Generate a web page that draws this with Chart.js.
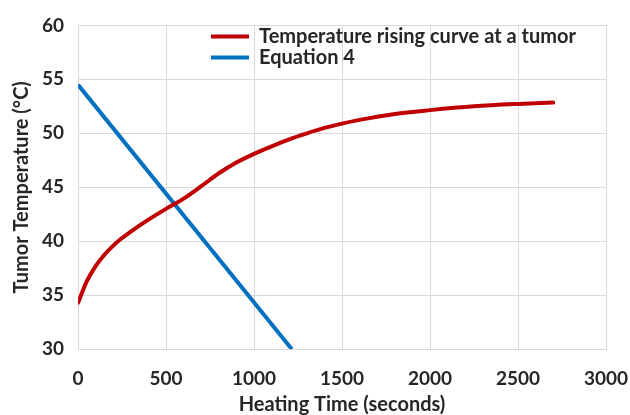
<html>
<head>
<style>
  body { margin: 0; background: #fff; }
  #wrap { width: 630px; height: 415px; }
</style>
</head>
<body>
<div id="wrap"><canvas id="myChart"></canvas></div>

<script src="https://cdn.jsdelivr.net/npm/chart.js"></script>
<script>
    // heating time (s) and tumor temperature (°C)
    const redTime = [0, 50, 100, 150, 200, 250, 300, 400, 500, 600, 700, 800, 900, 1000,
                     1100, 1200, 1300, 1400, 1500, 1600, 1800, 2000, 2250, 2500, 2700];
    const redTemp = [34.3, 36.3, 37.7, 38.75, 39.6, 40.3, 40.9, 42.0, 43.0, 43.95, 45.1, 46.3, 47.3, 48.1,
                     48.8, 49.45, 50.0, 50.5, 50.9, 51.25, 51.8, 52.15, 52.5, 52.72, 52.85];
    const blueTime = [0, 1215];
    const blueTemp = [54.5, 30];
    const seriesNames = ['Temperature rising curve at a tumor', 'Equation 4'];

    const font = 'Lato, "Open Sans", sans-serif';
    const textColor = '#262626';

    function pts(xs, ys) {
        let out = [];
        for (let i = 0; i < xs.length; i++) out.push({x: xs[i], y: ys[i]});
        return out;
    }

    // moves the legend to the right inside the plot
    const legendShift = {
        id: 'legendShift',
        afterLayout(chart) {
            chart.legend.left = chart.chartArea.left + 132;
            chart.legend.top = chart.chartArea.top;
        }
    };

    const ctx = document.getElementById('myChart');
    var chart = new Chart(ctx, {
        type: 'scatter',
        data: {
            datasets: [{
                label: seriesNames[0],
                data: pts(redTime, redTemp),
                showLine: true,
                borderColor: '#C00000',
                backgroundColor: '#C00000',
                borderWidth: 4,
                pointRadius: 0,
                cubicInterpolationMode: 'monotone',
                borderCapStyle: 'round'
            }, {
                label: seriesNames[1],
                data: pts(blueTime, blueTemp),
                showLine: true,
                borderColor: '#0070C0',
                backgroundColor: '#0070C0',
                borderWidth: 4,
                pointRadius: 0
            }]
        },
        plugins: [legendShift],
        options: {
            responsive: true,
            maintainAspectRatio: false,
            animation: false,
            layout: {padding: {top: 1, right: 0, left: 10, bottom: -2}},
            plugins: {
                tooltip: {enabled: false},
                legend: {
                    position: 'chartArea',
                    align: 'start',
                    labels: {
                        boxWidth: 38,
                        boxHeight: 0,
                        padding: 1,
                        color: textColor,
                        font: {family: font, size: 20, weight: 'bold'}
                    }
                }
            },
            scales: {
                x: {
                    type: 'linear',
                    min: 0,
                    max: 3000,
                    afterFit: function (axis) {
                        axis.paddingRight = 24;
                    },
                    ticks: {
                        stepSize: 500,
                        padding: 18,
                        color: textColor,
                        callback: v => v,
                        font: {family: font, size: 19, weight: 'bold'}
                    },
                    grid: {color: '#d9d9d9', lineWidth: 1, drawTicks: false},
                    border: {color: '#d9d9d9'},
                    title: {
                        display: true,
                        text: 'Heating Time (seconds)',
                        color: textColor,
                        padding: {top: -15, bottom: 0},
                        font: {family: font, size: 20, weight: 'bold'}
                    }
                },
                y: {
                    min: 30,
                    max: 60,
                    ticks: {
                        stepSize: 5,
                        padding: 14,
                        color: textColor,
                        font: {family: font, size: 19, weight: 'bold'}
                    },
                    grid: {color: '#d9d9d9', lineWidth: 1, drawTicks: false},
                    border: {color: '#d9d9d9'},
                    title: {
                        display: true,
                        text: 'Tumor Temperature (°C)',
                        color: textColor,
                        padding: {top: 0, bottom: -6},
                        font: {family: font, size: 20, weight: 'bold'}
                    }
                }
            }
        }
    });
</script>
</body>
</html>
